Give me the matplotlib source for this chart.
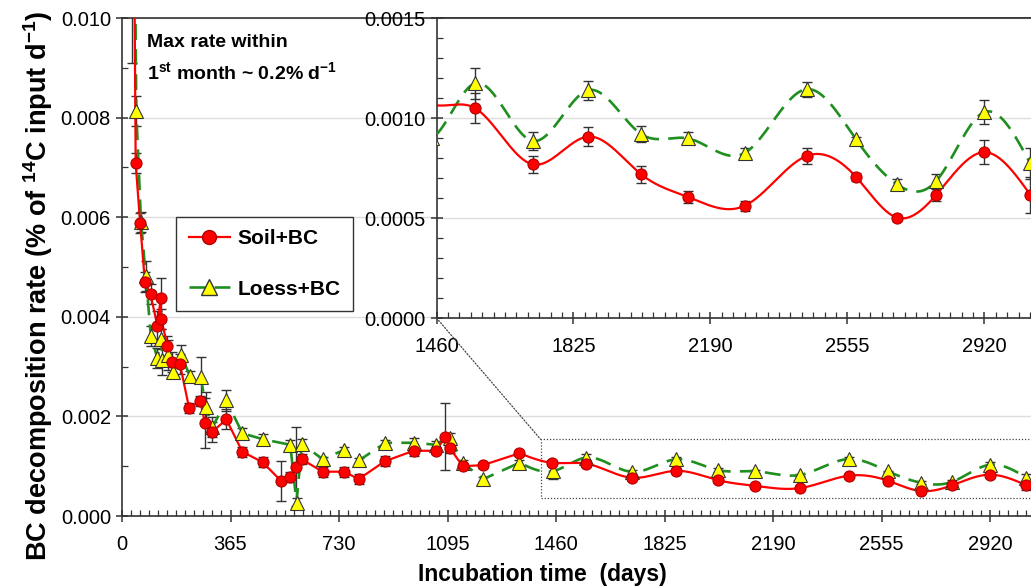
import numpy as np
import matplotlib
matplotlib.use("Agg")
import matplotlib.pyplot as plt
from matplotlib.ticker import MultipleLocator, FixedLocator, FormatStrFormatter
from matplotlib.patches import Rectangle, ConnectionPatch
from matplotlib.lines import Line2D

plt.rcParams['font.family'] = ['Liberation Sans', 'DejaVu Sans']
plt.rcParams['mathtext.fontset'] = 'custom'
plt.rcParams['mathtext.rm'] = 'Liberation Sans'
plt.rcParams['mathtext.bf'] = 'Liberation Sans:bold'

# incubation days and rates (% of 14C input per day)
soil_days = [33, 46, 61, 77, 96, 119, 130, 132, 153, 167, 195, 226, 263, 279, 302, 351,
             405, 473, 534, 566, 585, 604, 675, 748, 796, 884, 981, 1056, 1088, 1103,
             1146, 1213, 1337, 1445, 1562, 1717, 1864, 2005, 2130, 2281, 2446, 2577,
             2687, 2792, 2919, 3042]
soil_rate = [0.0185, 0.00708, 0.00588, 0.0047, 0.00445, 0.00382, 0.00437, 0.00395,
             0.00342, 0.00309, 0.00305, 0.00216, 0.00231, 0.00187, 0.00168, 0.00194,
             0.00129, 0.00108, 0.00071, 0.00079, 0.00099, 0.00114, 0.00089, 0.00089,
             0.00074, 0.0011, 0.00131, 0.00131, 0.00159, 0.00136, 0.0010, 0.00102,
             0.00126, 0.00107, 0.00105, 0.000768, 0.000907, 0.000719, 0.000605,
             0.000561, 0.00081, 0.000707, 0.000502, 0.000617, 0.000829, 0.000617]
soil_err = [0.0094, 0.0002, 0.0002, 0.0002, 0.0002, 0.0003, 0.0004, 0.0002, 0.0002,
            0.0002, 0.0002, 0.0001, 0.0001, 0.0005, 0.0002, 0.0002, 0.0001, 0.0001,
            0.0004, 0.0001, 0.00079, 0.0001, 0.0001, 0.0001, 0.0001, 0.0001, 0.0001,
            0.00007, 0.00067, 0.0001, 0.00005, 0.00005, 0.00005, 0.00005, 0.000075,
            0.000044, 0.000048, 0.000042, 0.00003, 0.000025, 0.000038, 0.00002,
            0.000015, 0.00003, 0.00006, 0.00009]

loess_days = [33, 48, 64, 80, 97, 119, 132, 136, 155, 173, 198, 229, 265, 282, 304, 351,
              405, 475, 566, 587, 605, 675, 748, 798, 886, 983, 1056, 1104, 1146, 1215,
              1337, 1449, 1562, 1717, 1864, 2005, 2130, 2281, 2446, 2577, 2687, 2792,
              2919, 3042]
loess_rate = [0.019, 0.00813, 0.0059, 0.00482, 0.00362, 0.00317, 0.00355, 0.00313,
              0.00323, 0.0029, 0.00323, 0.00281, 0.00279, 0.00219, 0.00178, 0.00232,
              0.00166, 0.00154, 0.00143, 0.00027, 0.00145, 0.00114, 0.00133, 0.00112,
              0.00147, 0.00147, 0.00143, 0.00157, 0.00107, 0.00074, 0.00107, 0.0009,
              0.001173, 0.000885, 0.001139, 0.00092, 0.000898, 0.000825, 0.001144,
              0.000895, 0.000668, 0.000686, 0.001029, 0.000773]
loess_err = [0.0001, 0.0003, 0.0002, 0.0003, 0.0002, 0.0002, 0.0002, 0.0003, 0.0003,
             0.0001, 0.0002, 0.0001, 0.0004, 0.0003, 0.0002, 0.00022, 0.0001, 0.0001,
             0.0001, 0.0001, 0.0001, 0.00005, 0.00005, 0.00005, 0.00005, 0.0001,
             0.00008, 0.0001, 0.00005, 0.00005, 0.00005, 0.00016, 0.000076, 0.000044,
             0.000048, 0.000042, 0.00003, 0.000025, 0.000037, 0.00001, 0.000025,
             0.000034, 0.00006, 0.000078]

year_ticks = [0, 365, 730, 1095, 1460, 1825, 2190, 2555, 2920]
SMOOTH_FROM = 1337  # later part drawn as a smooth curve (like the original)

RED = '#ff0000'
GREEN = '#1f8f1f'
YELLOW = '#ffff00'
NARROW = ['Liberation Sans Narrow', 'Liberation Sans', 'DejaVu Sans']


def spline(x, y, n=600):
    # natural cubic spline through the points, only for drawing the line
    x = np.asarray(x, float)
    y = np.asarray(y, float)
    k = len(x)
    h = np.diff(x)
    A = np.zeros((k, k))
    b = np.zeros(k)
    A[0, 0] = A[-1, -1] = 1
    for i in range(1, k - 1):
        A[i, i - 1] = h[i - 1]
        A[i, i] = 2 * (h[i - 1] + h[i])
        A[i, i + 1] = h[i]
        b[i] = 6 * ((y[i + 1] - y[i]) / h[i] - (y[i] - y[i - 1]) / h[i - 1])
    M = np.linalg.solve(A, b)
    xs = np.linspace(x[0], x[-1], n)
    i = np.clip(np.searchsorted(x, xs) - 1, 0, k - 2)
    t0 = x[i + 1] - xs
    t1 = xs - x[i]
    ys = (M[i] * t0 ** 3 + M[i + 1] * t1 ** 3) / (6 * h[i]) \
        + (y[i] / h[i] - M[i] * h[i] / 6) * t0 + (y[i + 1] / h[i] - M[i + 1] * h[i] / 6) * t1
    return xs, ys


def line_path(days, rate):
    days = np.asarray(days, float)
    rate = np.asarray(rate, float)
    j = int(np.searchsorted(days, SMOOTH_FROM))
    sx, sy = spline(days[j:], rate[j:])
    return np.concatenate([days[:j], sx]), np.concatenate([rate[:j], sy])


def draw_series(ax):
    ax.errorbar(soil_days, soil_rate, yerr=soil_err, fmt='none', ecolor='#333333',
                elinewidth=1, capsize=3.5, capthick=1, zorder=2)
    ax.errorbar(loess_days, loess_rate, yerr=loess_err, fmt='none', ecolor='#333333',
                elinewidth=1, capsize=3.5, capthick=1, zorder=2)
    lx, ly = line_path(loess_days, loess_rate)
    ax.plot(lx, ly, color=GREEN, lw=1.9, ls=(0, (6, 3.5)), zorder=3)
    lx, ly = line_path(soil_days, soil_rate)
    ax.plot(lx, ly, color=RED, lw=1.6, zorder=3)
    ax.plot(loess_days, loess_rate, ls='none', marker='^', ms=9.5, mfc=YELLOW,
            mec='#333333', mew=0.8, zorder=4)
    ax.plot(soil_days, soil_rate, ls='none', marker='o', ms=8, mfc=RED,
            mec='#b00000', mew=0.8, zorder=5)


def style_axes(a):
    for s in a.spines.values():
        s.set_color('#333333')
        s.set_linewidth(1.2)
    a.grid(axis='y', which='major', color='#dddddd', lw=1, zorder=0)
    a.set_axisbelow(True)
    a.tick_params(which='major', direction='inout', length=9, width=1.1, color='#333333',
                  labelsize=14.5)
    a.tick_params(which='minor', direction='in', length=4, width=0.9, color='#333333')
    a.tick_params(axis='x', pad=9)
    for lab in a.get_xticklabels():
        lab.set_family(NARROW)
        lab.set_fontsize(14.5)


W, H = 1031, 588
fig = plt.figure(figsize=(W / 100, H / 100), dpi=100)

# main panel
x0, xmax = 122, 3060
px_day = 0.2973
ax = fig.add_axes([x0 / W, 72 / H, xmax * px_day / W, 498 / H])
draw_series(ax)
ax.set_xlim(0, xmax)
ax.set_ylim(0, 0.010)
ax.xaxis.set_major_locator(FixedLocator(year_ticks))
ax.xaxis.set_minor_locator(MultipleLocator(365 / 12))
ax.yaxis.set_major_locator(MultipleLocator(0.002))
ax.yaxis.set_minor_locator(MultipleLocator(0.001))
ax.yaxis.set_major_formatter(FormatStrFormatter('%.3f'))
style_axes(ax)

ax.set_xlabel('Incubation time  (days)', fontsize=16.5, fontweight='bold', family=NARROW)
ax.xaxis.set_label_coords((542 - x0) / (xmax * px_day), -0.095)
ax.set_ylabel(r'BC decomposition rate (% of $^{\mathbf{14}}$C input d$^{\mathbf{-1}}$)',
              fontsize=19.5, fontweight='bold')
ax.yaxis.set_label_coords(-0.074, 0.462)

ax.text(83, 0.0095, 'Max rate within', fontsize=14, fontweight='bold', va='center')
ax.text(83, 0.0089, r'1$^{\mathbf{st}}$ month ~ 0.2% d$^{\mathbf{-1}}$', fontsize=14,
        fontweight='bold', va='center')

# zoom box on the main panel
box_x0, box_y0, box_y1 = 1408, 0.000367, 0.00154
ax.add_patch(Rectangle((box_x0, box_y0), xmax - box_x0 + 50, box_y1 - box_y0, fill=False,
                       ls=(0, (1, 1.5)), lw=0.9, ec='#444444', zorder=6, clip_on=True))

handles = [Line2D([], [], color=RED, lw=1.6, marker='o', ms=10, mfc=RED, mec='#b00000'),
           Line2D([], [], color=GREEN, lw=1.9, ls=(0, (6, 3.5)), marker='^', ms=11,
                  mfc=YELLOW, mec='#333333')]
leg = fig.legend(handles, ['Soil+BC', 'Loess+BC'], loc='upper left',
                 bbox_to_anchor=(176 / W, 1 - 217 / H), borderaxespad=0,
                 prop={'weight': 'bold', 'size': 15}, frameon=True, fancybox=False,
                 framealpha=1, edgecolor='#333333', handlelength=2.0,
                 labelspacing=1.5, borderpad=0.6, handletextpad=0.35)
leg.get_frame().set_linewidth(1.0)

# inset panel
ix0, ipx_day = 436.5, 0.3753
ins = fig.add_axes([ix0 / W, (H - 318) / H, (xmax - 1460) * ipx_day / W, 300 / H])
draw_series(ins)
ins.set_xlim(1460, xmax)
ins.set_ylim(0, 0.0015)
ins.xaxis.set_major_locator(FixedLocator(year_ticks[4:]))
ins.xaxis.set_minor_locator(MultipleLocator(365 / 12))
ins.yaxis.set_major_locator(MultipleLocator(0.0005))
ins.yaxis.set_minor_locator(MultipleLocator(0.0001))
ins.yaxis.set_major_formatter(FormatStrFormatter('%.4f'))
style_axes(ins)

for xa, xb in [(1460, box_x0), (xmax, xmax)]:
    con = ConnectionPatch(xyA=(xa, 0), coordsA=ins.transData, xyB=(xb, box_y1),
                          coordsB=ax.transData, ls=(0, (1, 1.5)), lw=0.9, color='#444444')
    fig.add_artist(con)

fig.savefig('out.png', dpi=100)
